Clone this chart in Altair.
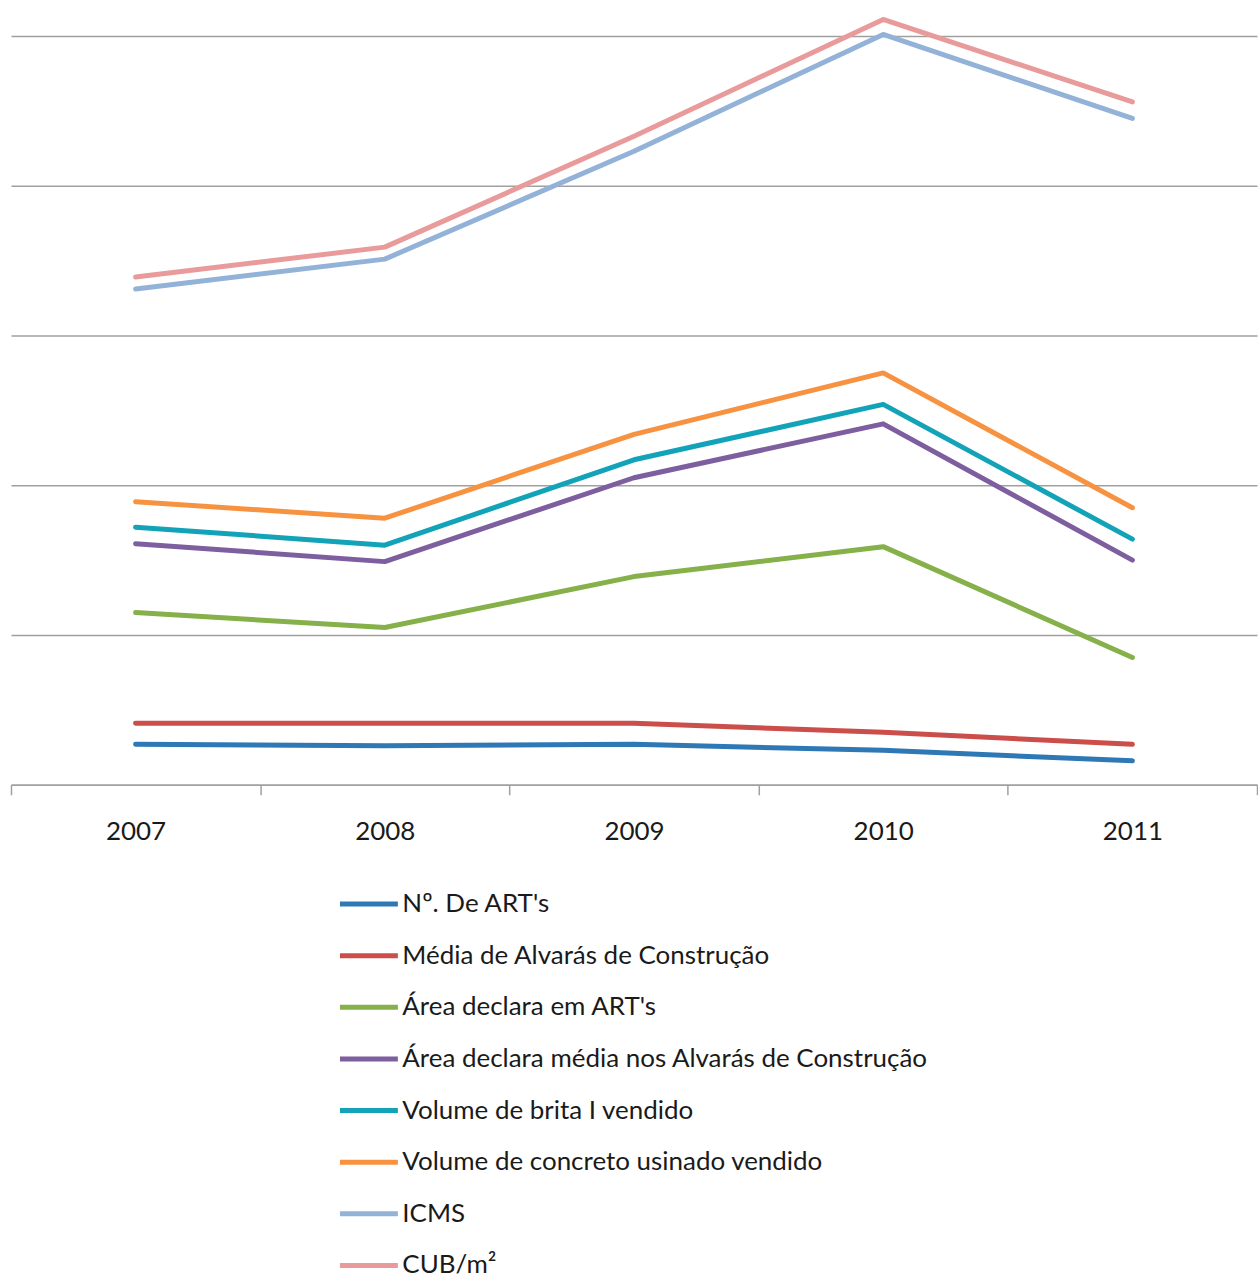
import altair as alt
import pandas as pd

years = [2007, 2008, 2009, 2010, 2011]

series_names = [
    "Nº. De ART's",
    "Média de Alvarás de Construção",
    "Área declara em ART's",
    "Área declara média nos Alvarás de Construção",
    "Volume de brita I vendido",
    "Volume de concreto usinado vendido",
    "ICMS",
    "CUB/m²",
]

series_colors = [
    "#2E78B5",
    "#CB4E4B",
    "#85B04A",
    "#7D5E9E",
    "#12A3B8",
    "#F79240",
    "#93B2D8",
    "#E99A9A",
]

art_count = [0.27, 0.26, 0.27, 0.23, 0.16]
alvaras_mean = [0.41, 0.41, 0.41, 0.35, 0.27]
area_art = [1.15, 1.05, 1.39, 1.59, 0.85]
area_alvaras = [1.61, 1.49, 2.05, 2.41, 1.50]
brita_volume = [1.72, 1.60, 2.17, 2.54, 1.64]
concreto_volume = [1.89, 1.78, 2.34, 2.75, 1.85]
icms = [3.31, 3.51, 4.23, 5.01, 4.45]
cub_m2 = [3.39, 3.59, 4.33, 5.11, 4.56]

all_values = [art_count, alvaras_mean, area_art, area_alvaras,
              brita_volume, concreto_volume, icms, cub_m2]

rows = []
for name, vals in zip(series_names, all_values):
    for yr, v in zip(years, vals):
        rows.append({"serie": name, "ano": yr, "valor": v})
df = pd.DataFrame(rows)

# tick marks sit on the boundaries between years, labels on the years
axis_values = [2006.5, 2007, 2007.5, 2008, 2008.5, 2009, 2009.5,
               2010, 2010.5, 2011, 2011.5]

x_axis = alt.Axis(
    values=axis_values,
    labelExpr="datum.value % 1 == 0 ? format(datum.value, 'd') : ''",
    tickOpacity={"condition": {"test": "datum.value % 1 != 0", "value": 1}, "value": 0},
    tickSize=10,
    tickColor="#A0A0A0",
    tickWidth=1.5,
    domainColor="#A0A0A0",
    domainWidth=1.5,
    labelFont="Lato",
    labelFontSize=26,
    labelColor="#1A1A1A",
    labelPadding=24,
    grid=False,
    title=None,
    labelFlush=False,
    labelOverlap=False,
)

y_axis = alt.Axis(
    values=[0, 1, 2, 3, 4, 5],
    labels=False,
    ticks=False,
    domain=False,
    grid=True,
    gridColor="#A0A0A0",
    gridWidth=1.5,
    title=None,
)

chart = (
    alt.Chart(df)
    .mark_line(strokeWidth=5, strokeCap="round", strokeJoin="round")
    .encode(
        x=alt.X("ano:Q", scale=alt.Scale(domain=[2006.5, 2011.5], nice=False, zero=False), axis=x_axis),
        y=alt.Y("valor:Q", scale=alt.Scale(domain=[0, 5], nice=False), axis=y_axis),
        color=alt.Color(
            "serie:N",
            scale=alt.Scale(domain=series_names, range=series_colors),
            sort=series_names,
            legend=alt.Legend(
                title=None,
                orient="none",
                legendX=327,
                legendY=838,
                direction="vertical",
                symbolType="stroke",
                symbolSize=3364,
                symbolStrokeWidth=5,
                labelFont="Lato",
                labelFontSize=26,
                labelColor="#1A1A1A",
                labelOffset=2,
                rowPadding=6.7,
                labelLimit=800,
            ),
        ),
        order=alt.Order("ano:Q"),
    )
    .properties(
        width=1248,
        height=750,
        background="white",
        padding={"left": 10, "top": 15, "right": 0, "bottom": 0},
    )
    .configure_view(stroke="transparent", strokeWidth=0)
)

chart.save("out.html", embed_options={"renderer": "svg", "actions": False})
